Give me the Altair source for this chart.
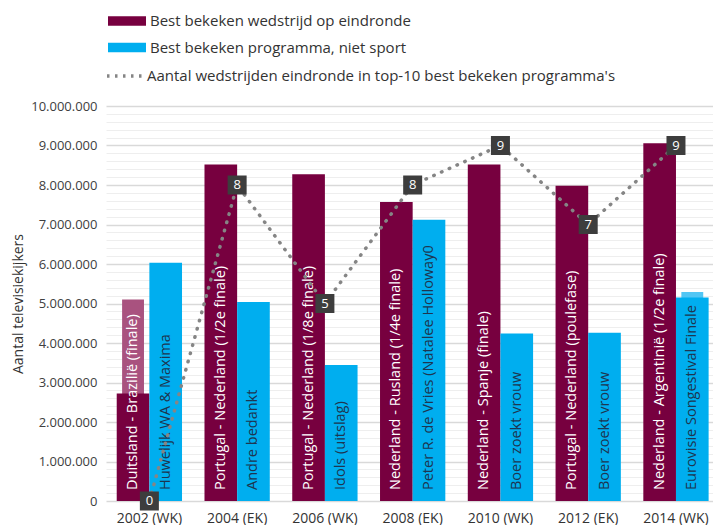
import altair as alt
import pandas as pd

# ---------------- data ----------------
years = ["2002 (WK)", "2004 (EK)", "2006 (WK)", "2008 (EK)", "2010 (WK)", "2012 (EK)", "2014 (WK)"]

match_names = [
    "Duitsland - Brazilië (finale)",
    "Portugal - Nederland (1/2e finale)",
    "Portugal - Nederland (1/8e finale)",
    "Nederland - Rusland (1/4e finale)",
    "Nederland - Spanje (finale)",
    "Portugal - Nederland (poulefase)",
    "Nederland - Argentinië (1/2e finale)",
]
match_views = [2720000, 8520000, 8270000, 7570000, 8520000, 7980000, 9060000]
match_views_light = [5100000, None, None, None, None, None, None]

prog_names = [
    "Huwelijk WA & Maxima",
    "Andre bedankt",
    "Idols (uitslag)",
    "Peter R. de Vries (Natalee Holloway0",
    "Boer zoekt vrouw",
    "Boer zoekt vrouw",
    "Eurovisie Songestival Finale",
]
prog_views = [6030000, 5040000, 3440000, 7120000, 4240000, 4260000, 5150000]
prog_views_light = [None, None, None, None, None, None, 5290000]

match_counts = [0, 8, 5, 8, 9, 7, 9]

ticks_major = list(range(0, 10_000_001, 1_000_000))
ticks_minor = [v for v in range(0, 10_000_001, 200_000) if v % 1_000_000]

S_MATCH = "Best bekeken wedstrijd op eindronde"
S_PROG = "Best bekeken programma, niet sport"
S_LINE = "Aantal wedstrijden eindronde in top-10 best bekeken programma's"

MAROON = "#77003f"
BLUE = "#00aeef"
MAROON_LIGHT = "#a9527f"
BLUE_LIGHT = "#52c6f4"
FONT = "Open Sans"

bars = pd.DataFrame({
    "year": years * 2,
    "series": [S_MATCH] * 7 + [S_PROG] * 7,
    "views": match_views + prog_views,
    "light": match_views_light + prog_views_light,
    "label": match_names + prog_names,
})
line = pd.DataFrame({"year": years, "count": match_counts, "series": [S_LINE] * 7})

# ---------------- encodings ----------------
xenc = alt.X(
    "year:N", sort=years,
    scale=alt.Scale(paddingInner=0.256, paddingOuter=0.086, align=0.71),
    axis=alt.Axis(title=None, labelAngle=0, domain=False, ticks=False,
                  labelFontSize=14, labelColor="#333333", labelPadding=10, labelFont=FONT),
)
xoff = alt.XOffset("series:N", sort=[S_MATCH, S_PROG],
                   scale=alt.Scale(domain=[S_MATCH, S_PROG], paddingInner=0, paddingOuter=0))
yscale = alt.Scale(domain=[0, 10_000_000])
cscale = alt.Scale(domain=[0, 10])

major_axis = alt.Axis(
    values=ticks_major, orient="left", grid=True, gridColor="#d9d9d9", gridWidth=1.5,
    domain=False, ticks=False,
    labelExpr="datum.value == 0 ? '0' : format(datum.value / 1000000, 'd') + '.000.000'",
    labelFontSize=13, labelColor="#404040", labelPadding=9, labelFont=FONT,
    title="Aantal televisiekijkers", titleFontSize=14, titleFontWeight="normal",
    titleColor="#333333", titlePadding=5, titleFont=FONT,
)
minor_axis = alt.Axis(values=ticks_minor, orient="left", grid=True, gridColor="#eeeeee",
                      gridWidth=1, labels=False, ticks=False, domain=False, title=None)

base_bars = alt.Chart(bars)

# narrower lighter bars behind the main bars, centred on each sub-band
light_bars = base_bars.mark_bar(
    width=alt.RelativeBandSize(0.335),
    xOffset=alt.ExprRef(expr=f"(datum.series == '{S_MATCH}' ? -1 : 1) * bandwidth('x') / 4"),
).encode(
    x=xenc,
    y=alt.Y("light:Q", scale=yscale, axis=minor_axis),
    color=alt.condition(alt.datum.series == S_MATCH, alt.value(MAROON_LIGHT), alt.value(BLUE_LIGHT)),
)

main_bars = base_bars.mark_bar().encode(
    x=xenc, xOffset=xoff,
    y=alt.Y("views:Q", scale=yscale, axis=major_axis),
    color=alt.Color("series:N", sort=[S_MATCH, S_PROG],
                    scale=alt.Scale(domain=[S_MATCH, S_PROG], range=[MAROON, BLUE]),
                    legend=alt.Legend(title=None, orient="none", legendX=11.5, legendY=-94.5,
                                      direction="vertical",
                                      symbolType="M-2,-0.5H2V0.5H-2Z", symbolSize=361,
                                      symbolStrokeWidth=0, symbolOpacity=1,
                                      labelFontSize=15, labelFont=FONT, labelColor="#333333",
                                      labelLimit=0, labelOffset=13.5, rowPadding=8.5)),
)

bar_text = base_bars.mark_text(angle=270, align="left", baseline="middle", dx=11,
                               fontSize=14.5, font=FONT).encode(
    x=xenc, xOffset=xoff,
    y=alt.Y("base:Q", scale=yscale, axis=None),
    text="label:N",
    color=alt.condition(alt.datum.series == S_MATCH, alt.value("#ffffff"), alt.value("#1e3550")),
).transform_calculate(base="0")

base_line = alt.Chart(line)

line_mark = base_line.mark_line(strokeDash=[0.5, 8], strokeCap="round", strokeWidth=3.5).encode(
    x=xenc,
    y=alt.Y("count:Q", scale=cscale, axis=None),
    stroke=alt.Stroke("series:N", scale=alt.Scale(domain=[S_LINE], range=["#858585"]),
                      legend=alt.Legend(title=None, orient="none", legendX=-1, legendY=-51,
                                        symbolType="stroke", symbolSize=1444,
                                        symbolStrokeWidth=3.5, symbolDash=[2.5, 5.5],
                                        labelFontSize=15, labelFont=FONT, labelColor="#333333",
                                        labelLimit=0, labelOffset=0)),
)

boxes = base_line.mark_square(size=361, color="#3d3d3d", opacity=1, filled=True).encode(
    x=xenc,
    y=alt.Y("count:Q", scale=cscale, axis=None),
)

box_text = base_line.mark_text(color="#ffffff", fontSize=13, font=FONT, baseline="middle").encode(
    x=xenc,
    y=alt.Y("count:Q", scale=cscale, axis=None),
    text="count:Q",
)

chart = alt.layer(
    light_bars, main_bars, bar_text, line_mark, boxes, box_text
).resolve_scale(
    y="independent"
).properties(
    width=607, height=395,
    autosize=alt.AutoSizeParams(type="none"),
    padding={"left": 106, "top": 106, "right": 0, "bottom": 24},
    background="white",
).configure_view(stroke=None)

chart.save("out.html", embed_options={"renderer": "svg", "actions": False})
